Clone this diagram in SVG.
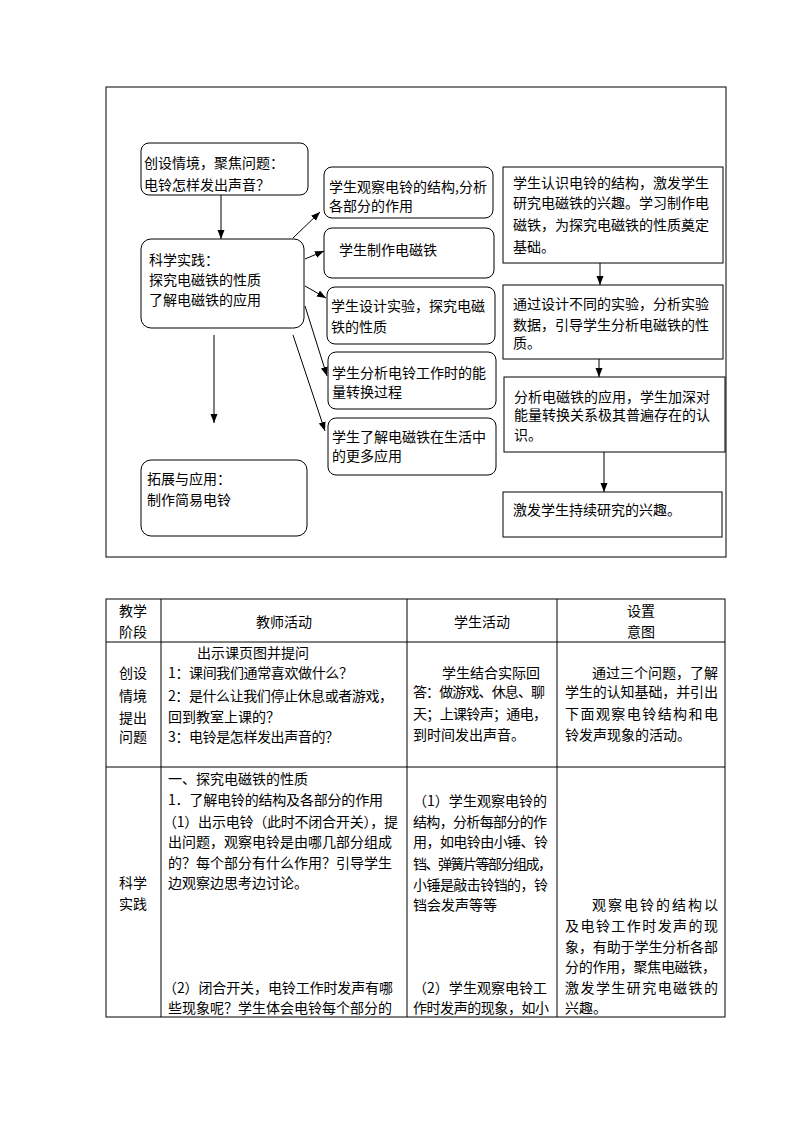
<svg xmlns="http://www.w3.org/2000/svg" width="794" height="1123" viewBox="0 0 794 1123">
<style>
  text { font-family: "Noto Sans CJK SC", "Liberation Sans", sans-serif; font-size: 14px; fill: #000; }
  .box { fill: #fff; stroke: #000; stroke-width: 1; }
  .frame { fill: none; stroke: #000; stroke-width: 1; }
  .conn { stroke: #000; stroke-width: 1; fill: none; marker-end: url(#arr); }
  .grid { stroke: #000; stroke-width: 1; fill: none; }
  .mid { text-anchor: middle; }
</style>
<defs>
  <marker id="arr" markerUnits="userSpaceOnUse" markerWidth="10" markerHeight="8" refX="9" refY="3.5" orient="auto">
    <path d="M0,0 L9,3.5 L0,7 z" fill="#000"/>
  </marker>
</defs>
<rect width="794" height="1123" fill="#fff"/>

<rect id="frame" class="frame" x="106" y="87" width="620" height="470"/>

<g id="connectors">
  <line class="conn" x1="221" y1="195" x2="221" y2="239"/>
  <line class="conn" x1="293" y1="238" x2="320" y2="212"/>
  <line class="conn" x1="305" y1="259" x2="324" y2="251"/>
  <line class="conn" x1="305" y1="286" x2="326" y2="298"/>
  <line class="conn" x1="305" y1="306" x2="327" y2="376"/>
  <line class="conn" x1="293" y1="335" x2="325" y2="431"/>
  <line class="conn" x1="214" y1="335" x2="214" y2="423"/>
  <line class="conn" x1="600" y1="263" x2="600" y2="285"/>
  <line class="conn" x1="599" y1="359" x2="599" y2="377"/>
  <line class="conn" x1="604" y1="452" x2="604" y2="492"/>
</g>

<g id="n-situation">
  <rect class="box" x="141" y="143" width="167" height="52" rx="8"/>
  <text x="144" y="168">创设情境，聚焦问题：</text>
  <text x="144" y="190">电铃怎样发出声音？</text>
</g>
<g id="n-practice">
  <rect class="box" x="141" y="239" width="163" height="89" rx="10"/>
  <text x="149" y="265">科学实践：</text>
  <text x="149" y="285">探究电磁铁的性质</text>
  <text x="149" y="305">了解电磁铁的应用</text>
</g>
<g id="n-observe">
  <rect class="box" x="324" y="167" width="169" height="51" rx="8"/>
  <text x="329" y="192">学生观察电铃的结构,分析</text>
  <text x="329" y="211">各部分的作用</text>
</g>
<g id="n-make">
  <rect class="box" x="324" y="228" width="170" height="50" rx="8"/>
  <text x="339" y="255">学生制作电磁铁</text>
</g>
<g id="n-design">
  <rect class="box" x="327" y="287" width="168" height="57" rx="8"/>
  <text x="331" y="311">学生设计实验，探究电磁</text>
  <text x="331" y="332">铁的性质</text>
</g>
<g id="n-energy">
  <rect class="box" x="328" y="352" width="168" height="57" rx="8"/>
  <text x="332" y="378">学生分析电铃工作时的能</text>
  <text x="332" y="397">量转换过程</text>
</g>
<g id="n-apply">
  <rect class="box" x="328" y="418" width="168" height="57" rx="8"/>
  <text x="332" y="442">学生了解电磁铁在生活中</text>
  <text x="332" y="461">的更多应用</text>
</g>
<g id="n-extend">
  <rect class="box" x="141" y="460" width="166" height="76" rx="10"/>
  <text x="147" y="484">拓展与应用：</text>
  <text x="147" y="505">制作简易电铃</text>
</g>
<g id="r-1">
  <rect class="box" x="503" y="167" width="220" height="96"/>
  <text x="513" y="188">学生认识电铃的结构，激发学生</text>
  <text x="513" y="208">研究电磁铁的兴趣。学习制作电</text>
  <text x="513" y="230">磁铁，为探究电磁铁的性质奠定</text>
  <text x="513" y="252">基础。</text>
</g>
<g id="r-2">
  <rect class="box" x="503" y="285" width="220" height="74"/>
  <text x="513" y="309">通过设计不同的实验，分析实验</text>
  <text x="513" y="330">数据，引导学生分析电磁铁的性</text>
  <text x="513" y="348">质。</text>
</g>
<g id="r-3">
  <rect class="box" x="504" y="377" width="221" height="75"/>
  <text x="514" y="402">分析电磁铁的应用，学生加深对</text>
  <text x="514" y="420">能量转换关系极其普遍存在的认</text>
  <text x="514" y="440">识。</text>
</g>
<g id="r-4">
  <rect class="box" x="503" y="492" width="219" height="45"/>
  <text x="513" y="515">激发学生持续研究的兴趣。</text>
</g>

<g id="table">
  <rect class="grid" x="106" y="599" width="619" height="418"/>
  <line class="grid" x1="161" y1="599" x2="161" y2="1017"/>
  <line class="grid" x1="407" y1="599" x2="407" y2="1017"/>
  <line class="grid" x1="557" y1="599" x2="557" y2="1017"/>
  <line class="grid" x1="106" y1="642" x2="725" y2="642"/>
  <line class="grid" x1="106" y1="767" x2="725" y2="767"/>

  <text class="mid" x="133" y="616">教学</text>
  <text class="mid" x="133" y="637">阶段</text>
  <text class="mid" x="284" y="627">教师活动</text>
  <text class="mid" x="482" y="627">学生活动</text>
  <text class="mid" x="641" y="616">设置</text>
  <text class="mid" x="641" y="637">意图</text>

  <text class="mid" x="133" y="678">创设</text>
  <text class="mid" x="133" y="701">情境</text>
  <text class="mid" x="133" y="723">提出</text>
  <text class="mid" x="133" y="742">问题</text>

  <text x="197" y="658">出示课页图并提问</text>
  <text x="168" y="678" textLength="185">1：课间我们通常喜欢做什么？</text>
  <text x="168" y="701" textLength="225">2：是什么让我们停止休息或者游戏，</text>
  <text x="168" y="722">回到教室上课的？</text>
  <text x="168" y="742" textLength="171">3：电铃是怎样发出声音的？</text>

  <text x="442" y="678">学生结合实际回</text>
  <text x="413" y="697" textLength="132">答：做游戏、休息、聊</text>
  <text x="413" y="719" textLength="134">天；上课铃声；通电，</text>
  <text x="413" y="740">到时间发出声音。</text>

  <text x="592" y="678" textLength="126">通过三个问题，了解</text>
  <text x="565" y="697" textLength="153">学生的认知基础，并引出</text>
  <text x="565" y="719" textLength="153">下面观察电铃结构和电</text>
  <text x="565" y="740">铃发声现象的活动。</text>

  <text class="mid" x="133" y="888">科学</text>
  <text class="mid" x="133" y="909">实践</text>

  <text x="168" y="784">一、探究电磁铁的性质</text>
  <text x="168" y="805" textLength="215">1．了解电铃的结构及各部分的作用</text>
  <text x="163" y="827" textLength="235">（1）出示电铃（此时不闭合开关），提</text>
  <text x="168" y="847" textLength="224">出问题，观察电铃是由哪几部分组成</text>
  <text x="168" y="868" textLength="224">的？每个部分有什么作用？引导学生</text>
  <text x="168" y="888">边观察边思考边讨论。</text>
  <text x="163" y="993" textLength="230">（2）闭合开关，电铃工作时发声有哪</text>
  <text x="168" y="1013" textLength="224">些现象呢？学生体会电铃每个部分的</text>

  <text x="413" y="806" textLength="134">（1）学生观察电铃的</text>
  <text x="413" y="827" textLength="134">结构，分析每部分的作</text>
  <text x="413" y="847" textLength="135">用，如电铃由小锤、铃</text>
  <text x="413" y="869" textLength="139">铛、弹簧片等部分组成，</text>
  <text x="413" y="890" textLength="135">小锤是敲击铃铛的，铃</text>
  <text x="413" y="910">铛会发声等等</text>
  <text x="413" y="993" textLength="134">（2）学生观察电铃工</text>
  <text x="413" y="1013" textLength="136">作时发声的现象，如小</text>

  <text x="592" y="910" textLength="126">观察电铃的结构以</text>
  <text x="565" y="931" textLength="153">及电铃工作时发声的现</text>
  <text x="565" y="952" textLength="153">象，有助于学生分析各部</text>
  <text x="565" y="972" textLength="151">分的作用，聚焦电磁铁，</text>
  <text x="565" y="993" textLength="153">激发学生研究电磁铁的</text>
  <text x="565" y="1013">兴趣。</text>
</g>
</svg>
